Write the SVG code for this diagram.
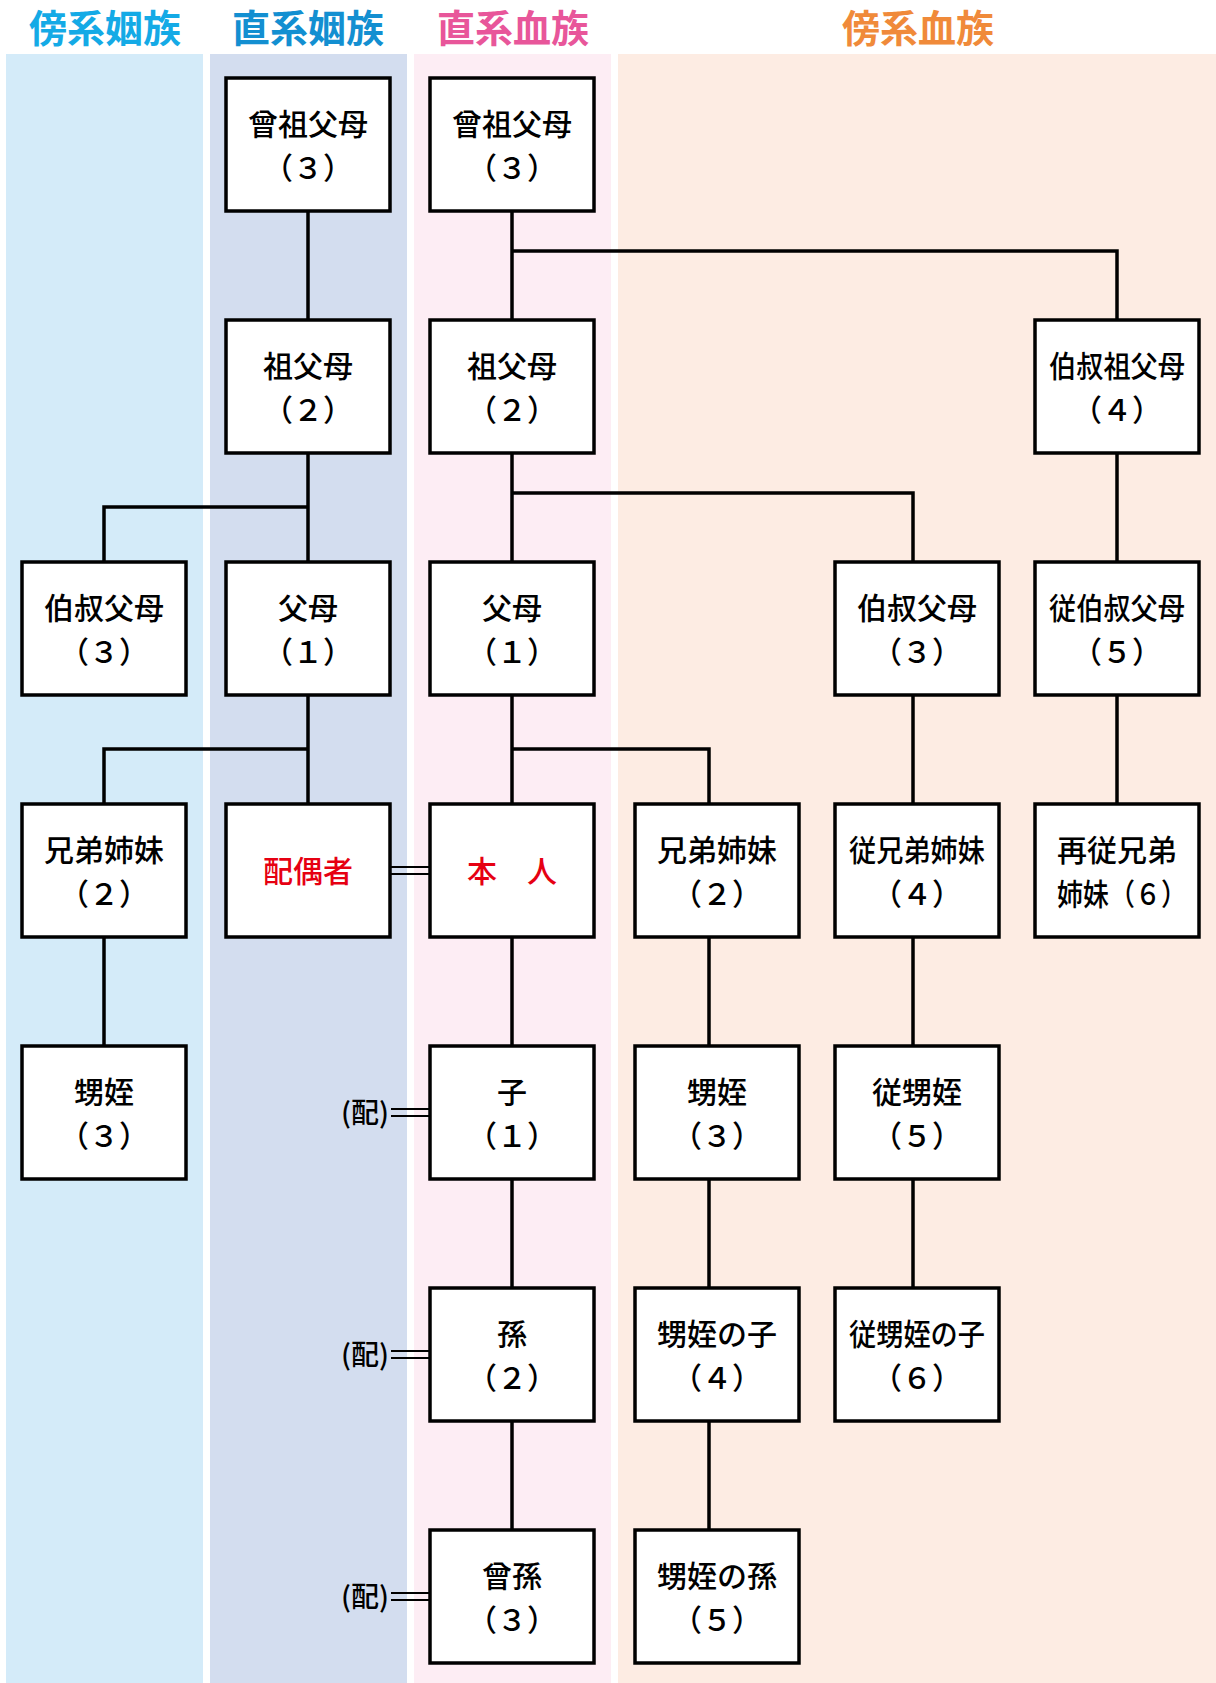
<svg xmlns="http://www.w3.org/2000/svg" width="1216" height="1683" viewBox="0 0 1216 1683">
<style>
.hd{font-family:"Noto Sans CJK JP","Noto Sans CJK SC",sans-serif;font-size:38px;font-weight:700;text-anchor:middle}
.bx{fill:#fff;stroke:#000;stroke-width:3.5}
.t{font-family:"Noto Sans CJK JP","Noto Sans CJK SC",sans-serif;font-size:30px;font-weight:500;text-anchor:middle;fill:#000;text-spacing-trim:space-all}
.r{fill:#e60012}
.ln{fill:none;stroke:#000;stroke-width:3.5}
.dl{fill:none;stroke:#000;stroke-width:2}
.hai{font-family:"Noto Sans CJK JP","Noto Sans CJK SC",sans-serif;font-size:28px;font-weight:500;text-anchor:end;fill:#000}
</style>
<rect width="1216" height="1683" fill="#fff"/>
<g id="bands">
<rect x="6" y="54" width="197" height="1629" fill="#d4ebf9"/>
<rect x="210" y="54" width="197" height="1629" fill="#d3ddef"/>
<rect x="414" y="54" width="197" height="1629" fill="#fdedf4"/>
<rect x="618" y="54" width="598" height="1629" fill="#fdece3"/>
<text class="hd" x="105" y="42" fill="#14aae6">傍系姻族</text>
<text class="hd" x="308" y="42" fill="#138fd1">直系姻族</text>
<text class="hd" x="513" y="42" fill="#e8569a">直系血族</text>
<text class="hd" x="918" y="42" fill="#f08a3a">傍系血族</text>
</g>
<g id="connectors">
<path class="ln" d="M308 212V320M308 453V562M308 507H104V562M308 695V804M308 749H104V804M104 937V1046"/>
<path class="ln" d="M512 212V320M512 251H1117V320M512 453V562M512 493H913V562M512 695V804M512 749H709V804M512 937V1046M512 1179V1288M512 1421V1530"/>
<path class="ln" d="M709 937V1046M709 1179V1288M709 1421V1530"/>
<path class="ln" d="M913 695V804M913 937V1046M913 1179V1288"/>
<path class="ln" d="M1117 453V562M1117 695V804"/>
<path class="dl" d="M391 867H430M391 874H430"/>
<path class="dl" d="M391 1109H430M391 1116H430"/>
<path class="dl" d="M391 1351H430M391 1358H430"/>
<path class="dl" d="M391 1593H430M391 1600H430"/>
<text class="hai" x="389" y="1123">(配)</text>
<text class="hai" x="389" y="1365">(配)</text>
<text class="hai" x="389" y="1607">(配)</text>
</g>
<g id="n-b1"><rect class="bx" x="226" y="78" width="164" height="133"/><text class="t" x="308" y="135">曾祖父母</text><text class="t" x="308" y="178.5">（３）</text></g>
<g id="n-c1"><rect class="bx" x="430" y="78" width="164" height="133"/><text class="t" x="512" y="135">曾祖父母</text><text class="t" x="512" y="178.5">（３）</text></g>
<g id="n-b2"><rect class="bx" x="226" y="320" width="164" height="133"/><text class="t" x="308" y="377">祖父母</text><text class="t" x="308" y="420.5">（２）</text></g>
<g id="n-c2"><rect class="bx" x="430" y="320" width="164" height="133"/><text class="t" x="512" y="377">祖父母</text><text class="t" x="512" y="420.5">（２）</text></g>
<g id="n-f2"><rect class="bx" x="1035" y="320" width="164" height="133"/><text class="t" x="1117" y="377" textLength="136" lengthAdjust="spacingAndGlyphs">伯叔祖父母</text><text class="t" x="1117" y="420.5">（４）</text></g>
<g id="n-a3"><rect class="bx" x="22" y="562" width="164" height="133"/><text class="t" x="104" y="619">伯叔父母</text><text class="t" x="104" y="662.5">（３）</text></g>
<g id="n-b3"><rect class="bx" x="226" y="562" width="164" height="133"/><text class="t" x="308" y="619">父母</text><text class="t" x="308" y="662.5">（１）</text></g>
<g id="n-c3"><rect class="bx" x="430" y="562" width="164" height="133"/><text class="t" x="512" y="619">父母</text><text class="t" x="512" y="662.5">（１）</text></g>
<g id="n-e3"><rect class="bx" x="835" y="562" width="164" height="133"/><text class="t" x="917" y="619">伯叔父母</text><text class="t" x="917" y="662.5">（３）</text></g>
<g id="n-f3"><rect class="bx" x="1035" y="562" width="164" height="133"/><text class="t" x="1117" y="619" textLength="136" lengthAdjust="spacingAndGlyphs">従伯叔父母</text><text class="t" x="1117" y="662.5">（５）</text></g>
<g id="n-a4"><rect class="bx" x="22" y="804" width="164" height="133"/><text class="t" x="104" y="861">兄弟姉妹</text><text class="t" x="104" y="904.5">（２）</text></g>
<g id="n-b4"><rect class="bx" x="226" y="804" width="164" height="133"/><text class="t r" x="308" y="882">配偶者</text></g>
<g id="n-c4"><rect class="bx" x="430" y="804" width="164" height="133"/><text class="t r" x="512" y="882">本　人</text></g>
<g id="n-d4"><rect class="bx" x="635" y="804" width="164" height="133"/><text class="t" x="717" y="861">兄弟姉妹</text><text class="t" x="717" y="904.5">（２）</text></g>
<g id="n-e4"><rect class="bx" x="835" y="804" width="164" height="133"/><text class="t" x="917" y="861" textLength="136" lengthAdjust="spacingAndGlyphs">従兄弟姉妹</text><text class="t" x="917" y="904.5">（４）</text></g>
<g id="n-f4"><rect class="bx" x="1035" y="804" width="164" height="133"/><text class="t" x="1117" y="861">再従兄弟</text><text class="t" x="1122" y="904.5" textLength="130" lengthAdjust="spacingAndGlyphs">姉妹（６）</text></g>
<g id="n-a5"><rect class="bx" x="22" y="1046" width="164" height="133"/><text class="t" x="104" y="1103">甥姪</text><text class="t" x="104" y="1146.5">（３）</text></g>
<g id="n-c5"><rect class="bx" x="430" y="1046" width="164" height="133"/><text class="t" x="512" y="1103">子</text><text class="t" x="512" y="1146.5">（１）</text></g>
<g id="n-d5"><rect class="bx" x="635" y="1046" width="164" height="133"/><text class="t" x="717" y="1103">甥姪</text><text class="t" x="717" y="1146.5">（３）</text></g>
<g id="n-e5"><rect class="bx" x="835" y="1046" width="164" height="133"/><text class="t" x="917" y="1103">従甥姪</text><text class="t" x="917" y="1146.5">（５）</text></g>
<g id="n-c6"><rect class="bx" x="430" y="1288" width="164" height="133"/><text class="t" x="512" y="1345">孫</text><text class="t" x="512" y="1388.5">（２）</text></g>
<g id="n-d6"><rect class="bx" x="635" y="1288" width="164" height="133"/><text class="t" x="717" y="1345">甥姪の子</text><text class="t" x="717" y="1388.5">（４）</text></g>
<g id="n-e6"><rect class="bx" x="835" y="1288" width="164" height="133"/><text class="t" x="917" y="1345" textLength="136" lengthAdjust="spacingAndGlyphs">従甥姪の子</text><text class="t" x="917" y="1388.5">（６）</text></g>
<g id="n-c7"><rect class="bx" x="430" y="1530" width="164" height="133"/><text class="t" x="512" y="1587">曾孫</text><text class="t" x="512" y="1630.5">（３）</text></g>
<g id="n-d7"><rect class="bx" x="635" y="1530" width="164" height="133"/><text class="t" x="717" y="1587">甥姪の孫</text><text class="t" x="717" y="1630.5">（５）</text></g>
</svg>
